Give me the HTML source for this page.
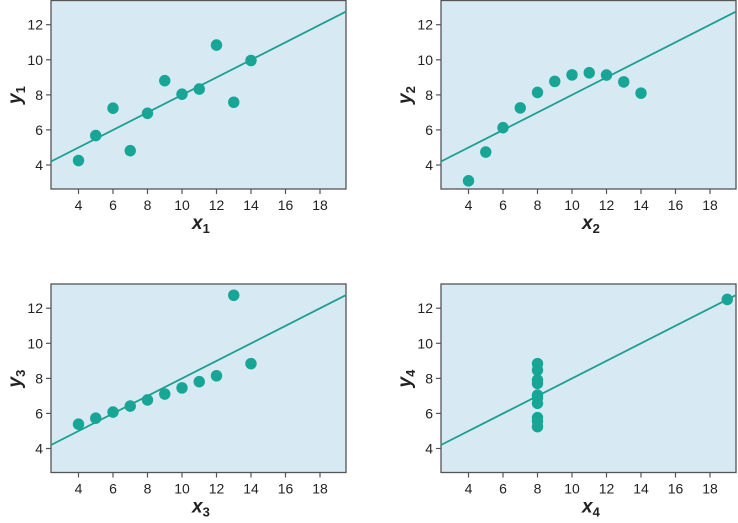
<!DOCTYPE html>
<html><head><meta charset="utf-8"><style>
html,body{margin:0;padding:0;background:#fff;}
svg{display:block;}
text{font-family:"Liberation Sans",sans-serif;fill:#222;}
.t{font-size:14px;}
.lab{font-size:19px;font-weight:bold;font-style:italic;}
.sub{font-size:13px;font-style:normal;}
</style></head><body>
<svg width="738" height="523" viewBox="0 0 738 523" xmlns="http://www.w3.org/2000/svg">
<defs>
<g id="frame">
<rect x="51" y="0.5" width="295" height="188.5" fill="#d7e9f3" stroke="#555" stroke-width="1.3"/>
<g stroke="#555" stroke-width="1.2">
<line x1="46" y1="24.7" x2="51" y2="24.7"/><line x1="46" y1="59.8" x2="51" y2="59.8"/><line x1="46" y1="94.9" x2="51" y2="94.9"/><line x1="46" y1="129.9" x2="51" y2="129.9"/><line x1="46" y1="165" x2="51" y2="165"/>
<line x1="78.5" y1="189" x2="78.5" y2="194"/><line x1="113" y1="189" x2="113" y2="194"/><line x1="147.5" y1="189" x2="147.5" y2="194"/><line x1="182" y1="189" x2="182" y2="194"/><line x1="216.5" y1="189" x2="216.5" y2="194"/><line x1="251" y1="189" x2="251" y2="194"/><line x1="285.5" y1="189" x2="285.5" y2="194"/><line x1="320" y1="189" x2="320" y2="194"/>
</g>
<g class="t" text-anchor="end">
<text x="43" y="29.7">12</text><text x="43" y="64.8">10</text><text x="43" y="99.9">8</text><text x="43" y="134.9">6</text><text x="43" y="170">4</text>
</g>
<g class="t" text-anchor="middle">
<text x="78.5" y="210">4</text><text x="113" y="210">6</text><text x="147.5" y="210">8</text><text x="182" y="210">10</text><text x="216.5" y="210">12</text><text x="251" y="210">14</text><text x="285.5" y="210">16</text><text x="320" y="210">18</text>
</g>
<line x1="51" y1="161.5" x2="346" y2="11.6" stroke="#1c9e90" stroke-width="1.8"/>
</g>
</defs>

<g>
<use href="#frame"/>
<g transform="translate(9.5,235.2) scale(17.25,-17.54)" fill="#17a596">
<circle cx="10" cy="8.04" r="0.33"/><circle cx="8" cy="6.95" r="0.33"/><circle cx="13" cy="7.58" r="0.33"/><circle cx="9" cy="8.81" r="0.33"/><circle cx="11" cy="8.33" r="0.33"/><circle cx="14" cy="9.96" r="0.33"/><circle cx="6" cy="7.24" r="0.33"/><circle cx="4" cy="4.26" r="0.33"/><circle cx="12" cy="10.84" r="0.33"/><circle cx="7" cy="4.82" r="0.33"/><circle cx="5" cy="5.68" r="0.33"/>
</g>
<text class="lab" x="192" y="229">x<tspan class="sub" dy="4">1</tspan></text>
<text class="lab" transform="translate(21,104) rotate(-90)">y<tspan class="sub" dy="4">1</tspan></text>
</g>

<g transform="translate(390,0)">
<use href="#frame"/>
<g transform="translate(9.5,235.2) scale(17.25,-17.54)" fill="#17a596">
<circle cx="10" cy="9.14" r="0.33"/><circle cx="8" cy="8.14" r="0.33"/><circle cx="13" cy="8.74" r="0.33"/><circle cx="9" cy="8.77" r="0.33"/><circle cx="11" cy="9.26" r="0.33"/><circle cx="14" cy="8.10" r="0.33"/><circle cx="6" cy="6.13" r="0.33"/><circle cx="4" cy="3.10" r="0.33"/><circle cx="12" cy="9.13" r="0.33"/><circle cx="7" cy="7.26" r="0.33"/><circle cx="5" cy="4.74" r="0.33"/>
</g>
<text class="lab" x="192" y="229">x<tspan class="sub" dy="4">2</tspan></text>
<text class="lab" transform="translate(21,104) rotate(-90)">y<tspan class="sub" dy="4">2</tspan></text>
</g>

<g transform="translate(0,283.5)">
<use href="#frame"/>
<g transform="translate(9.5,235.2) scale(17.25,-17.54)" fill="#17a596">
<circle cx="10" cy="7.46" r="0.33"/><circle cx="8" cy="6.77" r="0.33"/><circle cx="13" cy="12.74" r="0.33"/><circle cx="9" cy="7.11" r="0.33"/><circle cx="11" cy="7.81" r="0.33"/><circle cx="14" cy="8.84" r="0.33"/><circle cx="6" cy="6.08" r="0.33"/><circle cx="4" cy="5.39" r="0.33"/><circle cx="12" cy="8.15" r="0.33"/><circle cx="7" cy="6.42" r="0.33"/><circle cx="5" cy="5.73" r="0.33"/>
</g>
<text class="lab" x="192" y="229">x<tspan class="sub" dy="4">3</tspan></text>
<text class="lab" transform="translate(21,104) rotate(-90)">y<tspan class="sub" dy="4">3</tspan></text>
</g>

<g transform="translate(390,283.5)">
<use href="#frame"/>
<g transform="translate(9.5,235.2) scale(17.25,-17.54)" fill="#17a596">
<circle cx="8" cy="6.58" r="0.33"/><circle cx="8" cy="5.76" r="0.33"/><circle cx="8" cy="7.71" r="0.33"/><circle cx="8" cy="8.84" r="0.33"/><circle cx="8" cy="8.47" r="0.33"/><circle cx="8" cy="7.04" r="0.33"/><circle cx="8" cy="5.25" r="0.33"/><circle cx="19" cy="12.50" r="0.33"/><circle cx="8" cy="5.56" r="0.33"/><circle cx="8" cy="7.91" r="0.33"/><circle cx="8" cy="6.89" r="0.33"/>
</g>
<text class="lab" x="192" y="229">x<tspan class="sub" dy="4">4</tspan></text>
<text class="lab" transform="translate(21,104) rotate(-90)">y<tspan class="sub" dy="4">4</tspan></text>
</g>
</svg>
</body></html>
